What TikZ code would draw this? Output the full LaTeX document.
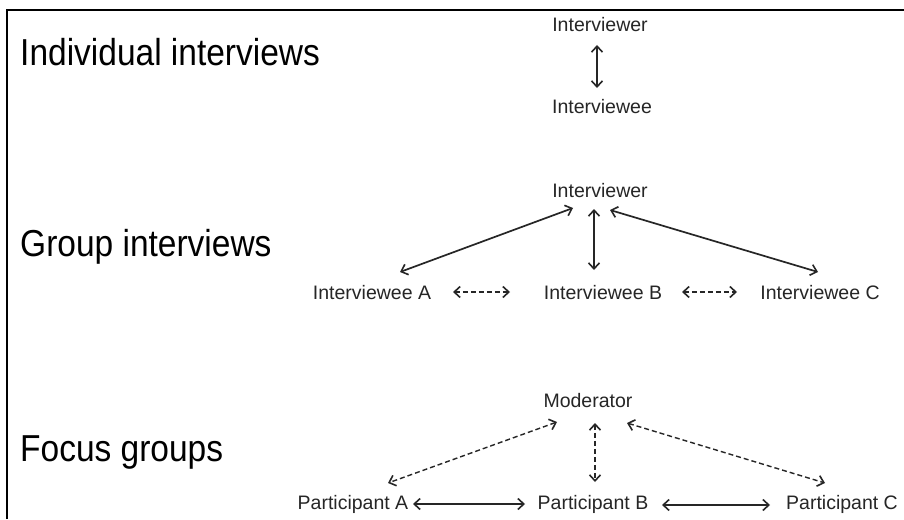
\documentclass[tikz,border=0pt]{standalone}
\usepackage{fontspec}
\setmainfont{Liberation Sans}
\usetikzlibrary{arrows.meta}
\begin{document}
\begin{tikzpicture}[x=1pt,y=-1pt,
  big/.style={anchor=base west,inner sep=0pt,font=\fontsize{33.5}{40}\selectfont},
  small/.style={anchor=base,inner sep=0pt,text=black!85,font=\fontsize{19.5}{23}\selectfont},
  tip/.tip={Straight Barb[length=6pt,width=11pt,line width=1.6pt]},
  link/.style={line width=1.7pt,black!85,tip-tip},
  dlink/.style={link,line width=1.4pt,dash pattern=on 5pt off 3pt}]
\useasboundingbox (0,0) rectangle (904,519);
\fill[white] (0,0) rectangle (904,519);
\draw[line width=2pt] (7,519) -- (7,10) -- (904,10);
% section labels
\node[big] (lind) at (20,65) {\scalebox{1}[1.12]{Individual interviews}};
\node[big] (lgrp) at (20,256) {\scalebox{1}[1.12]{Group interviews}};
\node[big] (lfoc) at (20,461) {\scalebox{1}[1.12]{Focus groups}};
% individual
\node[small] (ier1) at (600,32) {Interviewer};
\node[small] (iee) at (602,113) {Interviewee};
\draw[link] ([shift={(-3,13)}]ier1.base) -- ([shift={(-5,-25)}]iee.base);
% group
\node[small] (ier2) at (600,197) {Interviewer};
\node[small] (ia) at (372,299) {Interviewee A};
\node[small] (ib) at (603,299) {Interviewee B};
\node[small] (ic) at (820,299) {Interviewee C};
\draw[link] ([shift={(-27,11)}]ier2.base) -- ([shift={(28,-27)}]ia.base);
\draw[link] ([shift={(-6,12)}]ier2.base) -- ([shift={(-9,-29)}]ib.base);
\draw[link] ([shift={(10,13)}]ier2.base) -- ([shift={(-2,-27)}]ic.base);
\draw[dlink] ([shift={(81,-7)}]ia.base) -- ([shift={(-93,-7)}]ib.base);
\draw[dlink] ([shift={(79,-7)}]ib.base) -- ([shift={(-83,-7)}]ic.base);
% focus
\node[small] (mod) at (588,407) {Moderator};
\node[small] (pa) at (353,509) {Participant A};
\node[small] (pb) at (593,509) {Participant B};
\node[small] (pc) at (842,509) {Participant C};
\draw[dlink] ([shift={(-31,15)}]mod.base) -- ([shift={(35,-26)}]pa.base);
\draw[dlink] ([shift={(7,16)}]mod.base) -- ([shift={(2,-27)}]pb.base);
\draw[dlink] ([shift={(39,16)}]mod.base) -- ([shift={(-17,-26)}]pc.base);
\draw[link] ([shift={(60,-5)}]pa.base) -- ([shift={(-68,-5)}]pb.base);
\draw[link] ([shift={(69,-4)}]pb.base) -- ([shift={(-72,-4)}]pc.base);
\end{tikzpicture}
\end{document}
